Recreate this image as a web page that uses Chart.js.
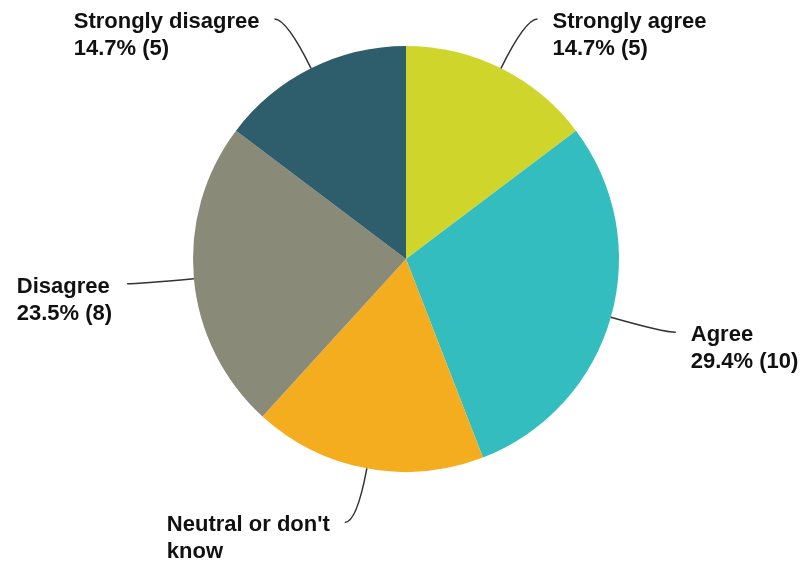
<!DOCTYPE html>
<html>
<head>
<meta charset="utf-8">
<script src="https://cdn.jsdelivr.net/npm/chart.js@4/dist/chart.umd.min.js"></script>
<style>
  html, body { margin: 0; padding: 0; background: #ffffff; }
  #wrap { width: 802px; height: 562px; }
</style>
</head>
<body>
<div id="wrap"><canvas id="c" width="802" height="562"></canvas></div>
<script>
// ---- data ----
const categories = ["Strongly agree", "Agree", "Neutral or don't know", "Disagree", "Strongly disagree"];
const counts = [5, 10, 6, 8, 5];
const colors = ["#cfd52b", "#33bdbf", "#f5ad20", "#8a8a79", "#2e5e6b"];
// label lines as shown in the chart (neutral label shows only its wrapped name)
const showValue = [true, true, false, true, true];
const wrappedNames = [["Strongly agree"], ["Agree"], ["Neutral or don't", "know"], ["Disagree"], ["Strongly disagree"]];

const total = counts.reduce((a, b) => a + b, 0);
const labelLines = categories.map((c, i) => {
  const lines = wrappedNames[i].slice();
  if (showValue[i]) lines.push((counts[i] / total * 100).toFixed(1) + "% (" + counts[i] + ")");
  return lines;
});

const FONT = "bold 22px \"Liberation Sans\"";

const leaderLabels = {
  id: 'leaderLabels',
  afterDatasetsDraw(chart) {
    const ctx = chart.ctx;
    const meta = chart.getDatasetMeta(0);
    ctx.save();
    ctx.font = FONT;
    meta.data.forEach((arc, i) => {
      const p = arc.getProps(['x', 'y', 'startAngle', 'endAngle', 'outerRadius'], true);
      const mid = (p.startAngle + p.endAngle) / 2;
      const dx = Math.cos(mid), dy = Math.sin(mid);
      const x0 = p.x + dx * p.outerRadius, y0 = p.y + dy * p.outerRadius;
      const L = 55, h = 12;
      const cx = x0 + dx * L, cy = y0 + dy * L;
      const side = dx >= 0 ? 1 : -1;
      const ex = cx + side * h, ey = cy;
      ctx.strokeStyle = '#333333';
      ctx.lineWidth = 1.5;
      ctx.beginPath();
      ctx.moveTo(x0, y0);
      ctx.quadraticCurveTo(cx, cy, ex, ey);
      ctx.stroke();

      const lines = labelLines[i];
      const w = Math.max(...lines.map(t => ctx.measureText(t).width));
      const tx = side > 0 ? ex + 15 : ex - 15 - w;
      ctx.fillStyle = '#111111';
      ctx.textAlign = 'left';
      ctx.textBaseline = 'alphabetic';
      lines.forEach((t, k) => {
        ctx.fillText(t, tx, ey + 9 + k * 27);
      });
    });
    ctx.restore();
  }
};

function draw() {
  new Chart(document.getElementById('c'), {
    type: 'pie',
    data: {
      labels: categories,
      datasets: [{
        data: counts,
        backgroundColor: colors,
        borderWidth: 0,
        hoverOffset: 0
      }]
    },
    options: {
      responsive: false,
      animation: false,
      layout: { padding: { left: 193, right: 183, top: 46, bottom: 90 } },
      plugins: {
        legend: { display: false },
        tooltip: { enabled: false }
      }
    },
    plugins: [leaderLabels]
  });
}
if (document.fonts && document.fonts.load) {
  document.fonts.load(FONT).then(draw, draw);
} else {
  draw();
}
</script>
</body>
</html>
